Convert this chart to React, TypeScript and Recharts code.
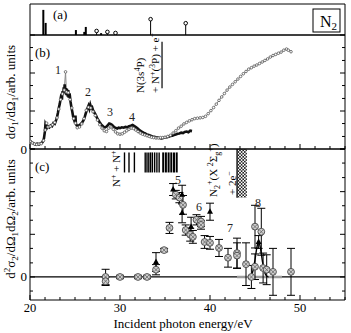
import React from "react"
import {
  ComposedChart,
  ErrorBar,
  Line,
  ReferenceArea,
  ReferenceLine,
  Scatter,
  XAxis,
  YAxis,
} from "recharts"

const W = 351
const H = 333
const SERIF = '"Liberation Serif", "DejaVu Serif", "Times New Roman", serif'
const FONT: React.CSSProperties = { fontFamily: SERIF }

// plot box edges in the page (axes take 1px each)
const LEFT = 30
const RIGHT = 345

// shared energy axis (eV)
const X_DOMAIN: [number, number] = [20, 55]
const X_TICKS = [
  20, 21.67, 23.33, 25, 26.67, 28.33, 30, 31.67, 33.33, 35, 36.67, 38.33, 40,
  41.67, 43.33, 45, 46.67, 48.33, 50, 51.67, 53.33, 55,
]
const Y_TICKS_B = [0, 0.33, 0.67, 1, 1.33, 1.67, 2, 2.33, 2.67, 3]
const Y_TICKS_C = [-0.33, 0, 0.33, 0.67, 1, 1.33, 1.67, 2, 2.33, 2.67, 3]

// (a) line spectrum
const STICK_E = [21.48, 21.74, 25.1, 26.03, 26.2, 27.9]
const STICK_H = [0.81, 0.39, 0.16, 0.1, 0.26, 0.06]
const RING_E = [27.4, 28.6, 29.5, 33.4, 37.3]
const RING_H = [0.13, 0.1, 0.065, 0.51, 0.38]

// (b) single photon cross sections [eV, value]
const BLACK_CURVE: [number, number][] = [
  [20.0, 0.22], [20.2, 0.17], [20.4, 0.15], [20.6, 0.12], [20.8, 0.14], [21.0, 0.12],
  [21.2, 0.15], [21.4, 0.18], [21.55, 0.28], [21.65, 0.45], [21.72, 0.66], [21.8, 0.62],
  [21.9, 0.56], [22.0, 0.6], [22.15, 0.57], [22.3, 0.62], [22.45, 0.6], [22.6, 0.68],
  [22.75, 0.66], [22.9, 0.76], [23.0, 0.84], [23.1, 0.95], [23.2, 1.08], [23.3, 1.18],
  [23.4, 1.32], [23.5, 1.45], [23.55, 1.3], [23.6, 1.52], [23.7, 1.44], [23.75, 1.62],
  [23.8, 1.48], [23.85, 1.7], [23.9, 1.52], [24.0, 1.6], [24.05, 1.42], [24.1, 1.58],
  [24.2, 1.38], [24.25, 1.55], [24.3, 1.35], [24.4, 1.46], [24.5, 1.25], [24.6, 1.1],
  [24.7, 0.98], [24.8, 0.84], [24.9, 0.76], [25.0, 0.7], [25.05, 0.88], [25.1, 0.66],
  [25.2, 0.62], [25.35, 0.6], [25.5, 0.63], [25.65, 0.66], [25.8, 0.7], [25.95, 0.76],
  [26.1, 0.86], [26.25, 0.98], [26.4, 1.08], [26.5, 1.14], [26.6, 1.06], [26.7, 1.16],
  [26.8, 1.08], [26.9, 1.1], [27.0, 1.02], [27.15, 0.96], [27.3, 0.9], [27.45, 0.82],
  [27.6, 0.76], [27.75, 0.7], [27.9, 0.65], [28.05, 0.61], [28.2, 0.58], [28.35, 0.57],
  [28.5, 0.59], [28.65, 0.63], [28.8, 0.67], [28.95, 0.66], [29.1, 0.64], [29.25, 0.6],
  [29.4, 0.57], [29.55, 0.55], [29.7, 0.54], [29.85, 0.56], [30.0, 0.55], [30.2, 0.57],
  [30.4, 0.56], [30.6, 0.58], [30.8, 0.57], [31.0, 0.6], [31.2, 0.61], [31.4, 0.63],
  [31.6, 0.6], [31.8, 0.57], [32.0, 0.53], [32.2, 0.49], [32.4, 0.46], [32.6, 0.43],
  [32.8, 0.41], [33.0, 0.38], [33.2, 0.37], [33.4, 0.35], [33.6, 0.33], [33.8, 0.32],
  [34.0, 0.31], [34.2, 0.3], [34.4, 0.29], [34.6, 0.28], [34.8, 0.29], [35.0, 0.3],
  [35.2, 0.31], [35.4, 0.32], [35.6, 0.34], [35.8, 0.35], [36.0, 0.37], [36.2, 0.38],
  [36.4, 0.4], [36.6, 0.41], [36.8, 0.43], [37.0, 0.42], [37.2, 0.45], [37.4, 0.46],
  [37.6, 0.44], [37.8, 0.48], [38.0, 0.47],
]
const GRAY_CURVE: [number, number][] = [
  [20.0, 0.2], [20.25, 0.16], [20.5, 0.13], [20.75, 0.12], [21.0, 0.13], [21.25, 0.14],
  [21.5, 0.22], [21.7, 0.5], [21.85, 0.68], [22.0, 0.58], [22.25, 0.6], [22.5, 0.64],
  [22.75, 0.7], [23.0, 0.82], [23.2, 1.05], [23.4, 1.3], [23.6, 1.45], [23.8, 1.55],
  [23.95, 2.03], [24.05, 1.5], [24.25, 1.48], [24.45, 1.3], [24.65, 1.08], [24.85, 0.8],
  [25.05, 0.68], [25.25, 0.56], [25.5, 0.58], [25.75, 0.66], [26.0, 0.8], [26.25, 1.02],
  [26.5, 1.1], [26.75, 1.08], [27.0, 0.98], [27.25, 0.88], [27.5, 0.76], [27.75, 0.64],
  [28.0, 0.55], [28.25, 0.48], [28.5, 0.46], [28.75, 0.55], [29.0, 0.58], [29.25, 0.52],
  [29.5, 0.45], [29.75, 0.4], [30.0, 0.39], [30.25, 0.4], [30.5, 0.44], [30.75, 0.48],
  [31.0, 0.52], [31.25, 0.55], [31.5, 0.54], [31.75, 0.5], [32.0, 0.46], [32.25, 0.42],
  [32.5, 0.39], [32.75, 0.37], [33.0, 0.35], [33.25, 0.33], [33.5, 0.31], [33.75, 0.3],
  [34.0, 0.29], [34.25, 0.29], [34.5, 0.3], [34.75, 0.3], [35.0, 0.31], [35.3, 0.33],
  [35.6, 0.36], [35.9, 0.42], [36.2, 0.48], [36.5, 0.55], [36.8, 0.6], [37.1, 0.66],
  [37.4, 0.7], [37.7, 0.74], [38.0, 0.77], [38.3, 0.8], [38.6, 0.81], [38.9, 0.82],
  [39.2, 0.83], [39.5, 0.86], [39.8, 0.93], [40.1, 1.01], [40.4, 1.09], [40.7, 1.18],
  [41.0, 1.28], [41.3, 1.37], [41.6, 1.46], [41.9, 1.55], [42.2, 1.63], [42.5, 1.7],
  [42.8, 1.77], [43.1, 1.84], [43.4, 1.91], [43.7, 1.98], [44.0, 2.04], [44.3, 2.1],
  [44.6, 2.14], [44.9, 2.18], [45.2, 2.21], [45.5, 2.25], [45.8, 2.29], [46.1, 2.33],
  [46.4, 2.37], [46.7, 2.42], [47.0, 2.46], [47.3, 2.49], [47.6, 2.52], [47.9, 2.55],
  [48.2, 2.6], [48.5, 2.63], [48.7, 2.6], [49.0, 2.56],
]
const B_THRESHOLD = { e: 34.67, from: 1.6, to: 2.82 }

// (c) double photon cross sections [eV, value, error]
const CIRCLES: [number, number, number][] = [
  [28.4, 0.0, 0.18], [28.4, -0.1, 0.1], [30.0, 0.0, 0.04], [32.0, 0.0, 0.04],
  [33.0, 0.0, 0.04], [34.0, 0.17, 0.12], [34.9, 0.63, 0.04], [35.5, 1.15, 0.13],
  [36.2, 1.93, 0.1], [36.6, 1.86, 0.12], [37.0, 1.69, 0.22], [37.3, 1.1, 0.12],
  [37.8, 0.99, 0.15], [38.1, 0.94, 0.15], [38.5, 1.34, 0.12], [39.0, 1.3, 0.12],
  [39.0, 1.22, 0.1], [39.4, 0.82, 0.15], [40.0, 0.8, 0.15], [41.0, 0.68, 0.2],
  [42.0, 0.45, 0.22], [43.0, 0.56, 0.35], [43.0, 0.5, 0.3], [44.0, 0.3, 0.5],
  [44.6, 0.0, 0.27], [45.0, 1.18, 0.5], [45.0, 0.24, 0.3], [45.7, 1.06, 0.55],
  [45.9, 0.21, 0.35], [46.3, 0.17, 0.35], [47.0, 0.12, 0.55], [49.0, 0.12, 0.55],
]
const TRIANGLES: [number, number, number][] = [
  [34.0, 0.35, 0.22], [35.9, 2.05, 0.14], [36.9, 1.93, 0.22], [36.9, 1.5, 0.23],
  [37.9, 1.18, 0.22], [40.0, 1.53, 0.2], [45.4, 0.82, 0.15],
]
const FIT_E = [44.4, 44.5, 44.7, 44.8, 44.9, 45.0, 45.1, 45.2, 45.3, 45.4, 45.5, 45.6, 45.7, 45.8, 45.9, 46.0, 46.1, 46.3, 46.5]
const FIT_V = [0.0, 0.02, 0.09, 0.17, 0.28, 0.4, 0.55, 0.68, 0.78, 0.82, 0.78, 0.68, 0.55, 0.4, 0.28, 0.17, 0.09, 0.02, 0.0]
const RESOLUTION_E = [43.0, 48.0]
const NN_LIMITS = [30.5, 31.0, 31.6, 32.8, 33.0, 33.2, 33.4, 33.6, 33.85, 34.1, 34.35, 34.8, 35.1, 35.4, 35.7, 36.0, 36.3]
const NN_RANGE = [2.45, 2.92]
const N2_ION = { e1: 43.0, e2: 44.1, from: 1.86, to: 3.0 }

const ringData = RING_E.map((e, i) => ({ e, h: RING_H[i] }))
const blackData = BLACK_CURVE.map(([e, v]) => ({ e, v }))
const grayData = GRAY_CURVE.map(([e, v]) => ({ e, v }))
const circleData = CIRCLES.map(([e, v, err]) => ({ e, v, err }))
const triangleData = TRIANGLES.map(([e, v, err]) => ({ e, v, err }))
const fitData = FIT_E.map((e, i) => ({ e, v: FIT_V[i] }))
const resolutionData = RESOLUTION_E.map((e) => ({ e, v: 0 }))

const xTick = (side: "top" | "bottom", labels: boolean) => (props: any) => {
  const { x, y, payload } = props
  const v = payload.value
  const major = Math.abs(v % 10) < 0.01
  const len = major ? 5 : 3
  const dir = side === "bottom" ? -1 : 1
  return (
    <g>
      <line x1={x} x2={x} y1={y} y2={y + dir * len} stroke="#000" strokeWidth={1} />
      {labels && major && (
        <text x={x} y={y + 12} textAnchor="middle" fontSize={12.5} style={FONT} fill="#000">
          {v}
        </text>
      )}
    </g>
  )
}

const yTick = (side: "left" | "right", zeroLabel: boolean) => (props: any) => {
  const { x, y, payload } = props
  const v = payload.value
  const major = Math.abs(v - Math.round(v)) < 0.01
  const len = major ? 5 : 3
  const dir = side === "left" ? 1 : -1
  return (
    <g>
      <line x1={x} x2={x + dir * len} y1={y} y2={y} stroke="#000" strokeWidth={1} />
      {zeroLabel && v === 0 && (
        <text x={x - 3} y={y + 4.5} textAnchor="end" fontSize={13} style={FONT} fill="#000">
          0
        </text>
      )}
    </g>
  )
}

const ringShape = (props: any) => {
  const { cx, cy } = props
  return <circle cx={cx} cy={cy} r={1.8} fill="#fff" stroke="#000" strokeWidth={1} />
}

const circleShape = (props: any) => {
  const { cx, cy } = props
  const d = 2.1
  return (
    <g>
      <circle cx={cx} cy={cy} r={3.4} fill="#cfcfcf" stroke="#444" strokeWidth={0.9} />
      <path
        d={`M${cx - d},${cy - d}L${cx + d},${cy + d}M${cx + d},${cy - d}L${cx - d},${cy + d}`}
        stroke="#666"
        strokeWidth={0.8}
      />
    </g>
  )
}

const triangleShape = (props: any) => {
  const { cx, cy } = props
  return <polygon points={`${cx},${cy - 3.5} ${cx + 3},${cy + 2} ${cx - 3},${cy + 2}`} fill="#000" />
}

const layer: React.CSSProperties = { position: "absolute", left: 0, top: 0 }

// plot box from top to bottom (page px); axes are 1px thick so margins lose 1
const boxMargin = (top: number, bottom: number) => ({
  top: top - 1,
  bottom: H - bottom - 1,
  left: LEFT - 1,
  right: W - RIGHT - 1,
})

function axes(yTicks: number[] | null, yDomain: [number, number], bottomLabels: boolean, zeroLabel: boolean, showX: boolean) {
  const common = {
    type: "number" as const,
    scale: "linear" as const,
    allowDataOverflow: true,
    interval: 0 as const,
    tickSize: 0,
    tickMargin: 0,
    tickLine: false,
    axisLine: { stroke: "#000" },
  }
  return [
    <XAxis
      key="xb"
      dataKey="e"
      {...common}
      domain={X_DOMAIN}
      ticks={X_TICKS}
      height={1}
      tick={showX ? xTick("bottom", bottomLabels) : false}
    />,
    <XAxis
      key="xt"
      xAxisId="top"
      orientation="top"
      {...common}
      domain={X_DOMAIN}
      ticks={X_TICKS}
      height={1}
      tick={showX ? xTick("top", false) : false}
    />,
    <YAxis
      key="yl"
      {...common}
      domain={yDomain}
      ticks={yTicks ?? undefined}
      width={1}
      tick={yTicks ? yTick("left", zeroLabel) : false}
    />,
    <YAxis
      key="yr"
      yAxisId="r"
      orientation="right"
      {...common}
      domain={yDomain}
      ticks={yTicks ?? undefined}
      width={1}
      tick={yTicks ? yTick("right", false) : false}
    />,
  ]
}

export default function App() {
  return (
    <div style={{ position: "absolute", left: 0, top: 0, width: W, height: H, background: "#fff" }}>
      <svg width={0} height={0} style={{ position: "absolute" }}>
        <defs>
          <pattern id="xhatch" width={3.2} height={3.2} patternUnits="userSpaceOnUse">
            <path d="M0,0L3.2,3.2M3.2,0L0,3.2" stroke="#000" strokeWidth={0.7} />
          </pattern>
        </defs>
      </svg>

      {/* (a) */}
      <div style={layer}>
        <ComposedChart width={W} height={H} margin={boxMargin(4, 35)}>
          {axes(null, [0, 1], false, false, false)}
          {STICK_E.map((e, i) => (
            <ReferenceLine
              key={`s${e}`}
              segment={[
                { x: e, y: 0 },
                { x: e, y: STICK_H[i] },
              ]}
              stroke="#000"
              strokeWidth={2}
            />
          ))}
          {RING_E.map((e, i) => (
            <ReferenceLine
              key={`r${e}`}
              segment={[
                { x: e, y: 0 },
                { x: e, y: RING_H[i] },
              ]}
              stroke="#000"
              strokeWidth={1}
            />
          ))}
          <Scatter data={ringData} dataKey="h" shape={ringShape} isAnimationActive={false} />
        </ComposedChart>
      </div>

      {/* (b) */}
      <div style={layer}>
        <ComposedChart width={W} height={H} margin={boxMargin(35, 149)}>
          {axes(Y_TICKS_B, [0, 3], false, true, true)}
          <Line
            data={grayData}
            dataKey="v"
            stroke="#8a8a8a"
            strokeWidth={1}
            dot={{ r: 1.3, fill: "#fff", stroke: "#555", strokeWidth: 0.8 }}
            isAnimationActive={false}
          />
          <Line data={blackData} dataKey="v" stroke="#111" strokeWidth={2.6} dot={false} isAnimationActive={false} />
          <ReferenceLine
            segment={[
              { x: B_THRESHOLD.e, y: B_THRESHOLD.from },
              { x: B_THRESHOLD.e, y: B_THRESHOLD.to },
            ]}
            stroke="#000"
            strokeWidth={1.2}
          />
        </ComposedChart>
      </div>

      {/* (c) */}
      <div style={layer}>
        <ComposedChart width={W} height={H} margin={boxMargin(149, 300)}>
          {axes(Y_TICKS_C, [-0.54, 3], true, true, true)}
          <ReferenceLine y={0} stroke="#000" strokeWidth={1.2} />
          {NN_LIMITS.map((e, i) => (
            <ReferenceLine
              key={e}
              segment={[
                { x: e, y: NN_RANGE[0] },
                { x: e, y: NN_RANGE[1] },
              ]}
              stroke="#000"
              strokeWidth={i > 10 ? 2 : 1.4}
            />
          ))}
          <ReferenceArea
            x1={N2_ION.e1}
            x2={N2_ION.e2}
            y1={N2_ION.from}
            y2={N2_ION.to}
            fill="url(#xhatch)"
            fillOpacity={1}
            stroke="none"
          />
          <ReferenceLine
            segment={[
              { x: N2_ION.e1, y: N2_ION.from },
              { x: N2_ION.e1, y: N2_ION.to },
            ]}
            stroke="#000"
            strokeWidth={1.2}
          />
          <Line data={resolutionData} dataKey="v" stroke="#9a9a9a" strokeWidth={2.5} dot={false} isAnimationActive={false} />
          <Scatter data={circleData} dataKey="v" shape={circleShape} isAnimationActive={false}>
            <ErrorBar dataKey="err" direction="y" width={4} stroke="#000" strokeWidth={1} />
          </Scatter>
          <Scatter data={triangleData} dataKey="v" shape={triangleShape} isAnimationActive={false}>
            <ErrorBar dataKey="err" direction="y" width={4} stroke="#000" strokeWidth={1} />
          </Scatter>
          <Line data={fitData} dataKey="v" stroke="#000" strokeWidth={1.4} dot={false} type="monotone" isAnimationActive={false} />
        </ComposedChart>
      </div>

      {/* labels */}
      <svg width={W} height={H} style={{ ...layer, ...FONT, pointerEvents: "none" }} fill="#000">
        <text x={53} y={19} fontSize={13} style={FONT}>(a)</text>
        <rect x={313} y={9} width={27} height={23} fill="none" stroke="#000" strokeWidth={1} />
        <text x={320} y={27} fontSize={16} style={FONT}>
          N<tspan fontSize={11} dy={3}>2</tspan>
        </text>
        <text x={35} y={57} fontSize={13} style={FONT}>(b)</text>
        <text x={35} y={171} fontSize={13} style={FONT}>(c)</text>

        <g fontSize={12} fill="#222" textAnchor="middle" style={FONT}>
          <text x={58} y={74}>1</text>
          <text x={88} y={96}>2</text>
          <text x={110} y={116}>3</text>
          <text x={132} y={121}>4</text>
          <text x={178} y={184}>5</text>
          <text x={199} y={211}>6</text>
          <text x={230} y={232}>7</text>
          <text x={258} y={207}>8</text>
        </g>

        <g fontSize={11} style={FONT}>
          <text transform="translate(143.5,93) rotate(-90)">
            N(3s<tspan fontSize={8} dy={-4}>4</tspan>
            <tspan dy={4}>P)</tspan>
          </text>
          <text transform="translate(159,93) rotate(-90)">
            + N<tspan fontSize={8} dy={-4}>+</tspan>
            <tspan dy={4}>(</tspan>
            <tspan fontSize={8} dy={-4}>3</tspan>
            <tspan dy={4}>P) + e</tspan>
            <tspan fontSize={8} dy={-4}>−</tspan>
          </text>
          <text transform="translate(120,187) rotate(-90)">
            N<tspan fontSize={8} dy={-4}>+</tspan>
            <tspan dy={4}> + N</tspan>
            <tspan fontSize={8} dy={-4}>+</tspan>
          </text>
          <text transform="translate(217,197) rotate(-90)">
            N<tspan fontSize={8} dy={3}>2</tspan>
            <tspan fontSize={8} dy={-8}>+</tspan>
            <tspan dy={5}>(X </tspan>
            <tspan fontSize={8} dy={-4}>2</tspan>
            <tspan dy={4}>Σ</tspan>
            <tspan fontSize={8} dy={3}>g</tspan>
            <tspan fontSize={8} dy={-7}>+</tspan>
            <tspan dy={4}>)</tspan>
          </text>
          <text transform="translate(236,195) rotate(-90)">
            + 2e<tspan fontSize={8} dy={-4}>−</tspan>
          </text>
        </g>

        <text transform="translate(15,92) rotate(-90)" textAnchor="middle" fontSize={13} style={FONT}>
          dσ<tspan fontSize={9} dy={3}>1</tspan>
          <tspan dy={-3}>/dΩ</tspan>
          <tspan fontSize={9} dy={3}>1</tspan>
          <tspan dy={-3}>/arb. units</tspan>
        </text>
        <text transform="translate(15,219) rotate(-90)" textAnchor="middle" fontSize={13} style={FONT}>
          d<tspan fontSize={9} dy={-5}>2</tspan>
          <tspan dy={5}>σ</tspan>
          <tspan fontSize={9} dy={3}>2</tspan>
          <tspan dy={-3}>/dΩ</tspan>
          <tspan fontSize={9} dy={3}>1</tspan>
          <tspan dy={-3}>dΩ</tspan>
          <tspan fontSize={9} dy={3}>2</tspan>
          <tspan dy={-3}>/arb. units</tspan>
        </text>
        <text x={183} y={327.5} textAnchor="middle" fontSize={13} style={FONT}>
          Incident photon energy/eV
        </text>
      </svg>
    </div>
  )
}
